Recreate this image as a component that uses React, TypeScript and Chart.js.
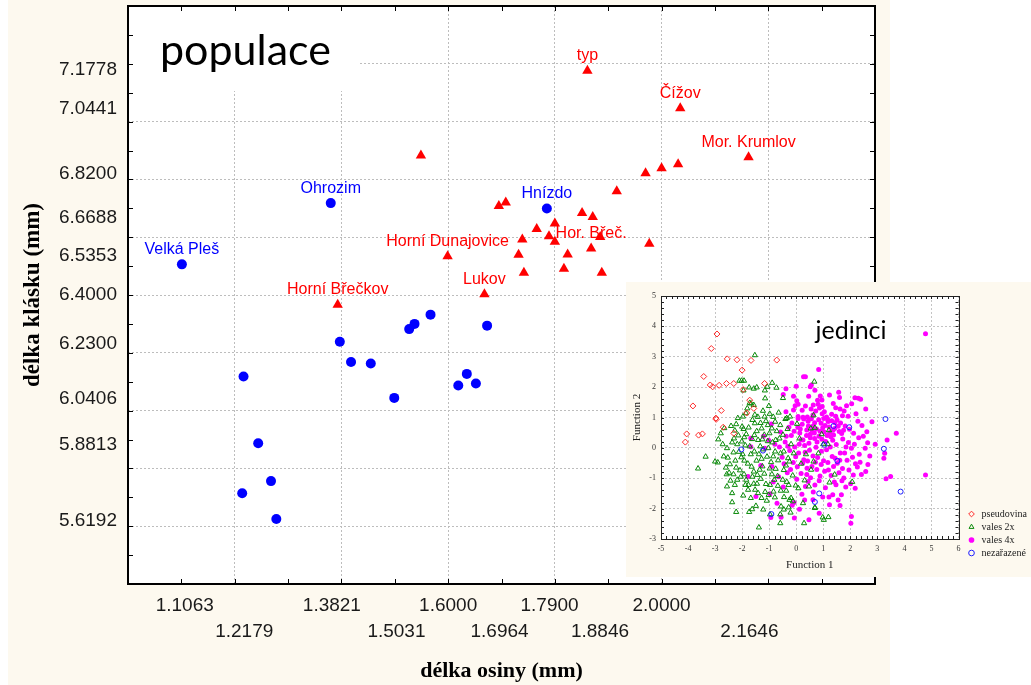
import React, { useEffect, useRef } from 'react';
import { Chart, registerables } from 'chart.js';

Chart.register(...registerables);
Chart.defaults.font.family = "'Liberation Sans', Arial, sans-serif";

// ---------- main chart data (populace) ----------
const popRedX = [1.549, 1.861, 2.035, 2.163, 1.970, 2.000, 2.031, 1.916, 1.695, 1.708, 1.851, 1.871, 1.800, 1.766, 1.739, 1.789, 1.800, 1.885, 1.977, 1.599, 1.732, 1.824, 1.868, 1.742, 1.817, 1.888, 1.668, 1.393];
const popRedY = [6.883, 7.176, 7.046, 6.877, 6.821, 6.839, 6.852, 6.759, 6.708, 6.720, 6.684, 6.670, 6.647, 6.628, 6.592, 6.603, 6.584, 6.601, 6.577, 6.534, 6.539, 6.540, 6.561, 6.477, 6.491, 6.477, 6.403, 6.366];
const popRedLabels = ['', 'typ', 'Čížov', 'Mor. Krumlov', '', '', '', '', '', '', '', '', '', '', '', '', '', '', '', 'Horní Dunajovice', '', '', 'Hor. Břeč.', '', '', '', 'Lukov', 'Horní Břečkov'];

const popBlueX = [1.101, 1.380, 1.785, 1.397, 1.527, 1.537, 1.567, 1.673, 1.418, 1.455, 1.2165, 1.635, 1.619, 1.652, 1.499, 1.244, 1.268, 1.214, 1.278];
const popBlueY = [6.506, 6.718, 6.699, 6.238, 6.282, 6.300, 6.332, 6.294, 6.168, 6.163, 6.118, 6.127, 6.087, 6.094, 6.044, 5.887, 5.756, 5.714, 5.625];
const popBlueLabels = ['Velká Pleš', 'Ohrozim', 'Hnízdo', '', '', '', '', '', '', '', '', '', '', '', '', '', '', '', ''];

const xTickRow1 = ['1.1063', '1.3821', '1.6000', '1.7900', '2.0000'];
const xTickRow2 = ['1.2179', '1.5031', '1.6964', '1.8846', '2.1646'];
const yTickLabels = ['7.1778', '7.0441', '6.8200', '6.6688', '6.5353', '6.4000', '6.2300', '6.0406', '5.8813', '5.6192'];

// ---------- inset data (jedinci) ----------
const insetSeries = ['pseudovina', 'vales 2x', 'vales 4x', 'nezařazené'];

const pseudovina: [number, number][] = [
  [-2.93, 3.75], [-3.14, 3.27], [-2.55, 2.93], [-2.19, 2.90], [-1.67, 2.88], [-0.72, 2.89], [-2.00, 2.56],
  [-3.42, 2.35], [-3.18, 2.07], [-3.09, 2.01], [-2.85, 2.06], [-2.58, 2.12], [-2.31, 2.12], [-1.96, 1.92],
  [-1.17, 2.12], [-1.72, 1.57], [-1.57, 1.30], [-2.77, 1.23], [-3.82, 1.38], [-1.83, 1.15], [-2.97, 0.98],
  [-2.96, 0.94], [-2.70, 0.68], [-2.31, 0.48], [-4.05, 0.46], [-4.10, 0.19], [-3.61, 0.42], [-3.47, 0.46],
];

const vales2x: [number, number][] = [
  [-1.53, 3.05], [-2.10, 2.21], [-2.02, 2.21], [-1.93, 2.21], [-1.74, 1.99], [-1.57, 1.95], [-1.46, 1.99],
  [-1.95, 1.89], [-1.16, 1.89], [-1.07, 2.01], [-0.89, 2.14], [-0.73, 1.98], [0.67, 2.18], [-1.15, 1.63],
  [-0.49, 1.64], [-1.67, 1.46], [-1.57, 1.41], [-1.81, 1.30], [-1.23, 1.22], [-1.01, 1.38], [-1.86, 1.14],
  [-1.17, 1.03], [-0.23, 1.03], [-0.65, 1.16], [-1.97, 1.03], [-1.53, 1.09], [0.64, 1.07], [-1.72, 1.48],
  [-0.98, 1.12], [-0.35, 0.98],
  [-2.41, 0.72], [-2.66, 0.65], [-2.79, 0.48], [-2.88, 0.28], [-2.30, 0.31], [-2.01, 0.21], [-1.95, 0.62],
  [-1.85, 0.45], [-1.76, 0.67], [-1.63, 0.29], [-1.41, 0.26], [-2.00, 0.70], [-2.16, 0.98], [-2.37, 0.18],
  [-2.56, -0.01], [-1.53, 0.81], [-1.28, 0.64], [-1.05, 0.75], [-0.90, 0.64], [-0.99, 0.48], [-0.76, 0.26],
  [-0.59, 0.75], [-0.49, 0.43], [-0.19, 0.12], [-0.78, 0.86], [-0.40, 0.95], [-1.03, -0.01], [-0.78, -0.12],
  [-0.46, -0.12], [-0.30, -0.34], [-1.18, 0.43], [-1.46, 0.55], [-1.12, 0.88], [-1.62, 0.92], [-2.27, 0.57],
  [-0.62, 0.31], [-1.33, 0.05], [-1.88, 0.08], [-2.14, 0.41], [-0.88, 0.18],
  [-3.35, -0.29], [-3.63, -0.68], [-3.00, -0.45], [-2.90, -0.48],
  [-2.53, -0.32], [-2.45, -0.54], [-2.60, -0.65], [-2.22, -0.65], [-2.57, -0.87], [-2.32, -0.87], [-2.18, -1.05],
  [-2.27, -1.22], [-2.56, -1.27], [-1.93, -0.87], [-1.85, -1.05], [-1.77, -1.22], [-1.78, -1.38], [-1.57, -1.18],
  [-1.52, -1.38], [-2.37, -1.49], [-2.37, -1.79], [-2.22, -2.11], [-1.74, -2.11], [-1.63, -2.02], [-1.49, -1.91],
  [-1.38, -2.62], [-1.28, -1.65], [-1.09, -1.74], [-1.25, -0.61], [-1.28, -0.36], [-1.57, -0.78], [-1.44, -0.89],
  [-0.90, -0.87], [-0.97, -1.22], [-0.84, -1.44], [-0.76, -0.69], [-0.50, -1.05], [-0.57, -1.41], [-0.37, -1.41],
  [-0.28, -1.22], [-0.19, -1.65], [-0.56, -1.93], [-0.28, -1.96], [-0.21, -2.13], [-0.59, -2.48], [0.29, -2.48],
  [0.25, -1.82], [-0.02, -1.24], [-0.46, -0.73], [-1.22, -2.03], [-0.97, -2.19], [-0.59, -2.19], [-0.46, -2.03],
  [-0.25, -1.71], [-0.12, -1.76], [0.69, -1.96], [0.98, -2.29], [1.19, -2.28], [2.07, -1.12], [-2.03, -0.31],
  [-1.79, -0.52], [-2.12, -0.13], [-1.68, -0.21], [-1.47, -0.42], [-1.08, -0.29], [-0.93, -0.47], [-1.31, -1.02],
  [-1.12, -1.19], [-0.69, -0.93], [-0.38, -0.58], [-0.13, -0.91], [0.08, -1.33], [0.31, -1.07], [0.18, -0.52],
  [-0.09, -0.18], [0.12, 0.31], [0.03, 0.79], [-2.43, -1.08], [-1.96, -1.57], [-1.41, -1.49], [-0.79, -1.63],
  [-1.65, -0.62], [-2.08, -0.74],
  [0.54, 0.64], [0.69, 0.66], [0.94, 0.45], [1.00, 0.12], [1.17, 0.12], [0.64, -0.45], [0.47, -1.27],
  [1.23, -1.14], [0.69, -1.98], [1.02, -2.37], [0.36, -0.21], [0.55, -0.72], [0.82, -0.18], [1.42, -0.88], [1.21, 0.58],
  [-2.32, -0.15], [-2.18, 0.12], [-1.98, -0.21], [-1.72, 0.05], [-1.55, -0.12], [-1.38, -0.21], [-1.22, -0.05],
  [-1.05, 0.22], [-0.85, -0.28], [-0.67, -0.41], [-0.58, -0.18], [-1.92, -0.42], [-2.25, -0.42], [-1.62, -0.95],
  [-1.35, -0.72], [-1.18, -0.85], [-0.98, -0.68], [-0.81, -1.05], [-1.45, -1.18], [-1.88, -1.22], [-2.05, -0.95],
  [-2.48, -0.82], [-1.68, -1.65], [-1.15, -1.45], [-0.68, -1.25], [-0.45, -1.62], [-1.92, 0.35], [-1.55, 0.42],
  [-1.25, 0.28], [-0.72, 0.55], [-2.22, 0.78], [-1.42, 1.02], [-0.85, 1.02], [-1.32, 0.82], [-0.32, 0.62],
  [-0.25, -0.45], [-2.68, -0.28], [-2.72, 0.12], [-1.02, -1.55], [-0.35, -1.12],
];

const vales4x: [number, number][] = [
  [4.78, 3.76], [0.83, 2.58], [0.27, 2.34], [0.34, 2.34], [0.00, 2.03], [-0.38, 1.95], [0.52, 2.01], [0.56, 2.07],
  [0.69, 1.90], [0.89, 1.71], [1.23, 1.74], [1.57, 1.83], [1.60, 1.66], [2.17, 1.65], [2.30, 1.63], [2.38, 1.60],
  [1.86, 1.39], [2.57, 1.28], [-0.48, 1.76], [-0.10, 1.70], [0.46, 1.70], [0.02, 1.55], [0.07, 1.44], [-0.04, 1.39],
  [0.34, 1.38], [-0.38, 1.19], [-0.10, 1.25], [0.25, 1.01], [0.07, 1.03], [0.41, 1.02], [0.79, 1.57], [0.81, 1.44],
  [0.86, 1.31], [0.72, 1.21], [0.96, 1.36], [0.63, 1.41], [1.04, 1.19], [1.31, 1.11], [1.46, 1.04], [1.71, 1.06],
  [1.92, 1.04], [2.21, 1.12], [1.16, 0.94], [0.56, 0.96], [1.62, 1.28], [1.37, 1.46], [0.95, 1.58], [2.05, 1.45],
  [-1.68, 0.04], [-1.68, 0.32], [-1.78, -0.94], [-1.16, -0.01], [-0.90, -0.61], [-0.97, -1.51], [-1.49, -1.60],
  [-0.08, -1.80], [-0.56, -2.28], [-0.94, -2.29], [0.25, 0.26], [0.39, 0.59], [0.07, 0.97], [-0.02, -0.29],
  [0.24, -0.51], [0.40, -0.67], [0.34, -1.27], [-0.15, -1.89], [-0.07, -2.31], [0.44, -1.11],
  [2.80, 0.86], [2.61, 0.53], [2.04, -0.01], [2.55, -0.01], [2.57, -0.78], [2.11, -0.89], [1.67, -1.54],
  [1.62, -1.90], [1.23, -1.87], [2.04, -2.26], [2.02, -2.48], [0.85, -2.15], [0.47, -2.37], [1.35, -1.54], [1.76, -0.99],
  [3.70, 0.48], [3.36, 0.26], [3.27, -0.18], [3.24, -0.34], [3.49, -0.94], [3.32, -1.02], [4.78, -0.89],
  [-0.58, 0.52], [-0.41, 0.19], [-0.27, 0.68], [-0.18, 0.41], [-0.06, 0.03], [0.13, 0.49], [0.22, 0.78], [0.31, 0.08],
  [0.52, 0.33], [0.61, 0.71], [0.73, 0.02], [0.84, 0.38], [0.92, 0.81], [1.03, 0.52], [1.09, 0.21], [1.22, 0.69],
  [1.28, 0.37], [1.43, 0.83], [1.48, 0.11], [1.59, 0.54], [1.72, 0.29], [1.81, 0.72], [1.93, 0.18], [2.12, 0.48],
  [2.31, 0.33], [2.43, 0.74], [2.64, 0.17], [2.72, -0.27],
  [-0.52, -0.31], [-0.33, -0.82], [-0.11, -0.48], [0.09, -0.17], [0.28, -0.39], [0.49, -0.08], [0.58, -0.61],
  [0.79, -0.32], [0.88, -0.93], [1.01, -0.42], [1.12, -0.06], [1.19, -0.73], [1.33, -0.28], [1.41, -1.12],
  [1.52, -0.51], [1.63, -0.17], [1.71, -0.68], [1.88, -0.41], [2.01, -1.18], [2.19, -0.52], [2.33, -0.21],
  [2.41, -0.88], [2.18, -1.33], [1.83, -1.29], [1.08, -1.31], [0.69, -1.22], [0.21, -1.53], [0.62, -1.71],
  [0.98, -1.62], [1.47, -1.21], [-0.48, -1.29], [-0.71, -1.82], [0.02, -1.03], [0.39, -0.88], [-0.79, 0.12],
  [-1.31, -0.58], [-1.21, 0.38], [-0.92, 0.79],
  [0.15, 0.62], [0.44, 0.88], [0.67, 0.49], [0.77, 0.19], [0.98, 0.66], [1.14, 0.41], [1.36, 0.58], [1.55, 0.71],
  [0.33, -0.14], [0.62, -0.27], [0.93, -0.11], [1.26, 0.03], [1.44, -0.34], [0.83, 0.93], [1.02, 0.97], [0.47, 0.15],
  [1.68, 0.47], [1.97, 0.61], [2.48, 0.38], [2.26, -0.63], [0.71, -0.47], [1.05, -0.77], [1.58, -0.82], [-0.24, -0.09],
  [-0.37, 0.38], [-0.16, 0.82], [0.18, 0.27], [0.58, 0.58], [1.31, 0.89], [1.84, 0.03],
  [0.45, 0.72], [0.52, 0.45], [0.68, 0.83], [0.75, 0.62], [0.88, 0.55], [0.95, 0.28], [1.07, 0.74], [1.18, 0.87],
  [1.24, 0.51], [1.35, 0.25], [1.42, 0.64], [1.51, 0.92], [1.64, 0.82], [1.75, 0.58], [1.12, 1.02], [0.62, 1.08],
  [0.38, 0.41], [0.28, 0.95], [0.06, 0.68], [-0.08, 0.55], [-0.31, 0.05], [-0.45, -0.52], [-0.21, -0.71], [0.04, -0.62],
  [0.18, -0.84], [0.42, -0.43], [0.53, -0.98], [0.76, -0.71], [0.92, -0.55], [1.17, -0.48], [1.29, -0.91], [1.38, -0.61],
  [1.61, -0.41], [1.79, -0.17], [1.95, -0.73], [2.08, -0.31], [2.15, 0.12], [2.36, -0.47], [0.85, -1.08], [0.63, -1.45],
  [0.31, -1.72], [0.12, -2.02], [1.21, -1.62], [1.55, -1.72], [-0.65, -0.95], [-0.85, -1.12], [-0.62, 0.03], [-1.02, 0.25],
  [0.96, 1.12], [1.46, 1.32], [1.77, 1.21], [0.22, 1.24], [0.55, 1.28], [1.69, -1.08], [2.28, 0.88], [2.65, -0.55],
  [2.92, 0.12], [0.11, 0.12], [0.68, 0.31], [1.38, 0.42],
];

const nezarazene: [number, number][] = [
  [3.30, 0.95], [1.96, 0.68], [1.38, 0.72], [1.04, 0.10], [3.24, -0.03], [1.52, -0.43],
  [3.86, -1.44], [0.85, -1.50], [0.69, -1.78], [-0.92, -2.18], [-2.03, -0.05], [-1.23, -0.09],
];

const CREAM = '#fdf9ef';

const toXY = (xs: number[], ys: number[]) => xs.map((x, i) => ({ x, y: ys[i] }));
const pairs = (p: [number, number][]) => p.map(([x, y]) => ({ x, y }));
const isEvenTenth = (v: number) => Math.round(v * 10) % 2 === 0;
const isInt = (v: number) => Math.abs(v - Math.round(v)) < 1e-6;
const noEdgePadding = (s: any) => {
  s.paddingTop = 0;
  s.paddingBottom = 0;
  s.paddingLeft = 0;
  s.paddingRight = 0;
};

const xTickMap = new Map<number, string[]>();
xTickRow1.forEach((s) => xTickMap.set(parseFloat(s), [s]));
xTickRow2.forEach((s) => xTickMap.set(parseFloat(s), ['', s]));

function mainConfig(): any {
  const decor = {
    id: 'mainDecor',
    beforeDraw(chart: any) {
      const { ctx, chartArea: a } = chart;
      ctx.save();
      ctx.fillStyle = '#ffffff';
      ctx.fillRect(a.left, a.top, a.right - a.left, a.bottom - a.top);
      ctx.restore();
    },
    beforeDatasetsDraw(chart: any) {
      const { ctx, chartArea: a } = chart;
      ctx.save();
      ctx.fillStyle = '#ffffff';
      ctx.fillRect(a.left + 1, a.top + 1, 350 - a.left, 90 - a.top);
      ctx.fillStyle = '#000000';
      ctx.font = "43px Lato, 'Open Sans', sans-serif";
      ctx.textAlign = 'left';
      ctx.textBaseline = 'alphabetic';
      ctx.fillText('populace', 152, 65);
      ctx.restore();
    },
    afterDatasetsDraw(chart: any) {
      const { ctx } = chart;
      ctx.save();
      ctx.font = "16px 'Liberation Sans', Arial, sans-serif";
      ctx.textAlign = 'center';
      ctx.textBaseline = 'middle';
      const draw = (idx: number, labels: string[], color: string) => {
        ctx.fillStyle = color;
        chart.getDatasetMeta(idx).data.forEach((el: any, i: number) => {
          if (labels[i]) ctx.fillText(labels[i], el.x, el.y - 15);
        });
      };
      draw(0, popRedLabels, '#ff0000');
      draw(1, popBlueLabels, '#0000ff');
      ctx.restore();
    },
    afterDraw(chart: any) {
      const { ctx, chartArea: a, scales } = chart;
      ctx.save();
      ctx.strokeStyle = '#000000';
      ctx.lineWidth = 1;
      ctx.beginPath();
      scales.x.ticks.forEach((t: any) => {
        const px = Math.round(scales.x.getPixelForValue(t.value)) + 0.5;
        ctx.moveTo(px, a.bottom); ctx.lineTo(px, a.bottom - 5);
        ctx.moveTo(px, a.top); ctx.lineTo(px, a.top + 5);
      });
      scales.y.ticks.forEach((t: any) => {
        const py = Math.round(scales.y.getPixelForValue(t.value)) + 0.5;
        ctx.moveTo(a.left, py); ctx.lineTo(a.left + 5, py);
        ctx.moveTo(a.right, py); ctx.lineTo(a.right - 5, py);
      });
      ctx.stroke();
      ctx.lineWidth = 2;
      ctx.strokeRect(a.left, a.top, a.right - a.left, a.bottom - a.top);
      ctx.restore();
    },
  };

  return {
    type: 'scatter',
    data: {
      datasets: [
        {
          label: 'red',
          data: toXY(popRedX, popRedY),
          xAxisID: 'x', yAxisID: 'y',
          pointStyle: 'triangle', radius: 6, pointRadius: 6,
          backgroundColor: '#ff0000', borderColor: '#ff0000', borderWidth: 0,
        },
        {
          label: 'blue',
          data: toXY(popBlueX, popBlueY),
          xAxisID: 'x', yAxisID: 'y',
          pointStyle: 'circle', radius: 5, pointRadius: 5,
          backgroundColor: '#0000ff', borderColor: '#0000ff', borderWidth: 0,
        },
      ],
    },
    options: {
      responsive: false,
      animation: false,
      devicePixelRatio: 1,
      events: [],
      layout: { padding: { top: 5, right: 15, left: 0, bottom: 0 } },
      plugins: { legend: { display: false }, tooltip: { enabled: false } },
      scales: {
        x: {
          type: 'linear', axis: 'x', position: 'bottom', min: 1.0, max: 2.4,
          ticks: { stepSize: 0.1, display: false },
          grid: { drawTicks: false, color: '#bdbdbd', lineWidth: (c: any) => (c.tick && isEvenTenth(c.tick.value) ? 1 : 0) },
          border: { display: false, dash: [2, 2] },
          afterFit: (s: any) => { s.height = 0; noEdgePadding(s); },
        },
        x2: {
          type: 'linear', axis: 'x', position: 'bottom', min: 1.0, max: 2.4,
          afterBuildTicks: (s: any) => {
            s.ticks = [...xTickRow1, ...xTickRow2].map((t) => ({ value: parseFloat(t) }));
          },
          ticks: {
            autoSkip: false, maxRotation: 0, minRotation: 0, padding: 8, color: '#1a1a1a',
            font: { size: 19, family: "'Liberation Sans', Arial, sans-serif", lineHeight: 1.4 },
            callback: (v: any) => xTickMap.get(Number(v)) ?? '',
          },
          grid: { display: false, drawTicks: false },
          border: { display: false },
          title: {
            display: true, text: 'délka osiny (mm)', color: '#000000',
            font: { family: "'Liberation Serif', 'Times New Roman', serif", size: 22, weight: 'bold', lineHeight: 1.2 },
            padding: { top: 0, bottom: 0 },
          },
          afterFit: (s: any) => { s.height = 101; noEdgePadding(s); },
        },
        y: {
          type: 'linear', axis: 'y', position: 'left', min: 5.4, max: 7.4,
          ticks: { stepSize: 0.1, display: false },
          grid: { drawTicks: false, color: '#bdbdbd', lineWidth: (c: any) => (c.tick && isEvenTenth(c.tick.value) ? 1 : 0) },
          border: { display: false, dash: [2, 2] },
          afterFit: (s: any) => { s.width = 0; noEdgePadding(s); },
        },
        y2: {
          type: 'linear', axis: 'y', position: 'left', min: 5.4, max: 7.4,
          afterBuildTicks: (s: any) => {
            s.ticks = yTickLabels.map((t) => ({ value: parseFloat(t) }));
          },
          ticks: {
            autoSkip: false, padding: 11, color: '#1a1a1a',
            font: { size: 19, family: "'Liberation Sans', Arial, sans-serif" },
            callback: (v: any) => {
              const f = yTickLabels.find((t) => parseFloat(t) === Number(v));
              return f ?? '';
            },
          },
          grid: { display: false, drawTicks: false },
          border: { display: false },
          title: {
            display: true, text: 'délka klásku (mm)', color: '#000000',
            font: { family: "'Liberation Serif', 'Times New Roman', serif", size: 23, weight: 'bold', lineHeight: 1.2 },
            padding: { top: 11, bottom: 0 },
          },
          afterFit: (s: any) => { s.width = 120; noEdgePadding(s); },
        },
      },
    },
    plugins: [decor],
  };
}

function insetConfig(): any {
  const decor = {
    id: 'insetDecor',
    beforeDraw(chart: any) {
      const { ctx, chartArea: a } = chart;
      ctx.save();
      ctx.fillStyle = '#ffffff';
      ctx.fillRect(a.left, a.top, a.right - a.left, a.bottom - a.top);
      ctx.restore();
    },
    beforeDatasetsDraw(chart: any) {
      const { ctx, scales } = chart;
      const x0 = scales.x.getPixelForValue(0) + 2;
      const x1 = scales.x.getPixelForValue(4) - 2;
      const y0 = scales.y.getPixelForValue(5) + 1;
      const y1 = scales.y.getPixelForValue(3) - 2;
      ctx.save();
      ctx.fillStyle = '#ffffff';
      ctx.fillRect(x0, y0, x1 - x0, y1 - y0);
      ctx.fillStyle = '#000000';
      ctx.font = "25px Lato, 'Open Sans', sans-serif";
      ctx.textAlign = 'center';
      ctx.textBaseline = 'alphabetic';
      ctx.fillText('jedinci', 225, 57);
      ctx.restore();
    },
    afterDraw(chart: any) {
      const { ctx, chartArea: a, scales } = chart;
      ctx.save();
      ctx.strokeStyle = '#222222';
      ctx.lineWidth = 1;
      ctx.beginPath();
      scales.x.ticks.forEach((t: any) => {
        const px = Math.round(scales.x.getPixelForValue(t.value)) + 0.5;
        ctx.moveTo(px, a.bottom); ctx.lineTo(px, a.bottom - 3);
        ctx.moveTo(px, a.top); ctx.lineTo(px, a.top + 3);
      });
      scales.y.ticks.forEach((t: any) => {
        const py = Math.round(scales.y.getPixelForValue(t.value)) + 0.5;
        ctx.moveTo(a.left, py); ctx.lineTo(a.left + 3, py);
        ctx.moveTo(a.right, py); ctx.lineTo(a.right - 3, py);
      });
      ctx.stroke();
      ctx.strokeRect(Math.round(a.left) + 0.5, Math.round(a.top) + 0.5, Math.round(a.right - a.left), Math.round(a.bottom - a.top));
      ctx.restore();
    },
  };

  const tickFont = { family: "'Liberation Serif', 'Times New Roman', serif", size: 8 };
  const titleFont = { family: "'Liberation Serif', 'Times New Roman', serif", size: 11, lineHeight: 1.2 };

  return {
    type: 'scatter',
    data: {
      datasets: [
        {
          label: insetSeries[0], data: pairs(pseudovina), xAxisID: 'x', yAxisID: 'y',
          pointStyle: 'rectRot', radius: 3, pointRadius: 3,
          backgroundColor: 'rgba(0,0,0,0)', borderColor: '#ff2a2a', borderWidth: 1,
        },
        {
          label: insetSeries[1], data: pairs(vales2x), xAxisID: 'x', yAxisID: 'y',
          pointStyle: 'triangle', radius: 3, pointRadius: 3,
          backgroundColor: 'rgba(0,0,0,0)', borderColor: '#0a8a0a', borderWidth: 1,
        },
        {
          label: insetSeries[2], data: pairs(vales4x), xAxisID: 'x', yAxisID: 'y',
          pointStyle: 'circle', radius: 2.5, pointRadius: 2.5,
          backgroundColor: '#ff00ff', borderColor: '#ff00ff', borderWidth: 0,
        },
        {
          label: insetSeries[3], data: pairs(nezarazene), xAxisID: 'x', yAxisID: 'y',
          pointStyle: 'circle', radius: 2.5, pointRadius: 2.5, order: -1,
          backgroundColor: 'rgba(0,0,0,0)', borderColor: '#2020ff', borderWidth: 1,
        },
      ],
    },
    options: {
      responsive: false,
      animation: false,
      devicePixelRatio: 1,
      events: [],
      layout: { padding: { top: 14, bottom: 16, left: 0, right: 0 } },
      plugins: {
        tooltip: { enabled: false },
        legend: {
          display: true, position: 'right', align: 'end',
          labels: {
            usePointStyle: true, boxHeight: 4, padding: 3, color: '#222222',
            font: { family: "'Liberation Serif', 'Times New Roman', serif", size: 10 },
            sort: (a: any, b: any) => a.datasetIndex - b.datasetIndex,
          },
        },
      },
      scales: {
        x: {
          type: 'linear', axis: 'x', position: 'bottom', min: -5, max: 6,
          ticks: {
            stepSize: 0.2, autoSkip: false, maxRotation: 0, minRotation: 0, padding: 5, color: '#333333', font: tickFont,
            callback: (v: any) => (isInt(Number(v)) ? String(Math.round(Number(v))) : ''),
          },
          grid: { drawTicks: false, color: '#c4c4c4', lineWidth: (c: any) => (c.tick && isInt(c.tick.value) ? 1 : 0) },
          border: { display: false, dash: [2, 2] },
          title: { display: true, text: 'Function 1', color: '#222222', font: titleFont, padding: { top: 0, bottom: -11 } },
          afterFit: (s: any) => { s.height = 22; noEdgePadding(s); },
        },
        y: {
          type: 'linear', axis: 'y', position: 'left', min: -3, max: 5,
          ticks: {
            stepSize: 0.2, autoSkip: false, padding: 5, color: '#333333', font: tickFont,
            callback: (v: any) => (isInt(Number(v)) ? String(Math.round(Number(v))) : ''),
          },
          grid: { drawTicks: false, color: '#c4c4c4', lineWidth: (c: any) => (c.tick && isInt(c.tick.value) ? 1 : 0) },
          border: { display: false, dash: [2, 2] },
          title: { display: true, text: 'Function 2', color: '#222222', font: titleFont, padding: { top: 5, bottom: 0 } },
          afterFit: (s: any) => { s.width = 35; noEdgePadding(s); },
        },
        yr: {
          type: 'linear', axis: 'y', position: 'right', display: true,
          ticks: { display: false },
          grid: { display: false, drawTicks: false },
          border: { display: false },
          afterFit: (s: any) => { s.width = 5; noEdgePadding(s); },
        },
      },
    },
    plugins: [decor],
  };
}

export default function App() {
  const mainRef = useRef<HTMLCanvasElement>(null);
  const insetRef = useRef<HTMLCanvasElement>(null);

  useEffect(() => {
    const c1 = new Chart(mainRef.current as HTMLCanvasElement, mainConfig());
    const c2 = new Chart(insetRef.current as HTMLCanvasElement, insetConfig());
    return () => {
      c1.destroy();
      c2.destroy();
    };
  }, []);

  return (
    <div style={{ position: 'absolute', left: 0, top: 0, width: 1031, height: 685, overflow: 'hidden', background: '#ffffff' }}>
      <div style={{ position: 'absolute', left: 8, top: 0, width: 882, height: 685, background: CREAM }}>
        <canvas ref={mainRef} width={882} height={685} style={{ display: 'block', width: 882, height: 685 }} />
      </div>
      <div style={{ position: 'absolute', left: 626, top: 282, width: 405, height: 295, background: CREAM }}>
        <canvas ref={insetRef} width={405} height={295} style={{ display: 'block', width: 405, height: 295 }} />
      </div>
    </div>
  );
}
